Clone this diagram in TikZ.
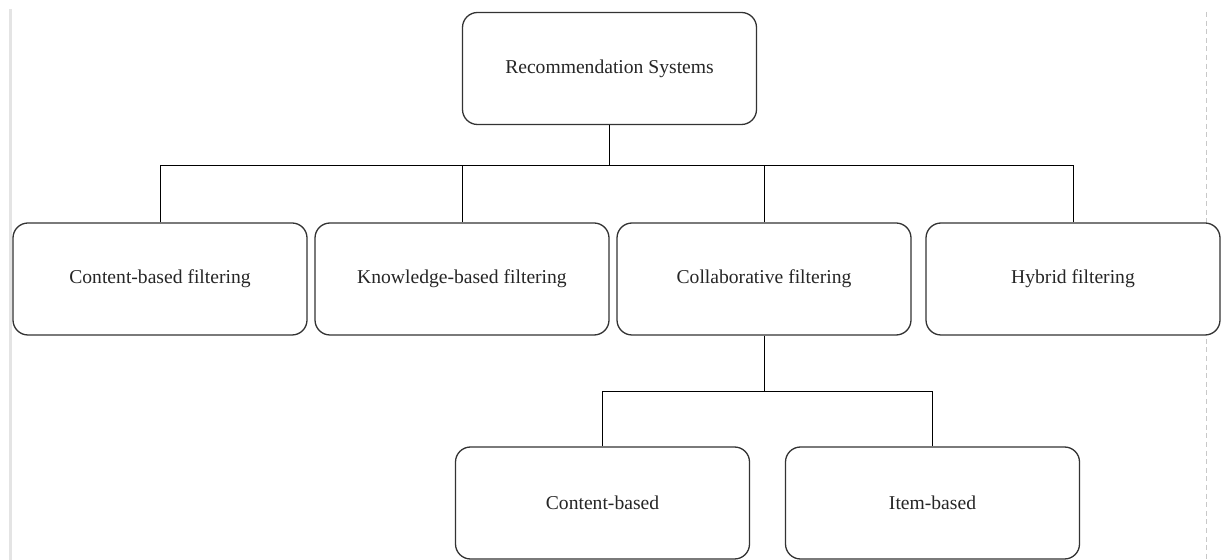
\documentclass[tikz,border=0pt]{standalone}
\usepackage{fontspec}
\setmainfont{Liberation Serif}
\usepackage{tikz}
\usetikzlibrary{positioning}
\definecolor{edge}{RGB}{51,51,51}
\definecolor{rule}{RGB}{228,228,228}
\definecolor{guide}{RGB}{200,200,200}
\tikzset{
  cat/.style={draw=edge, line width=0.65pt, fill=white, rounded corners=7.5pt,
              minimum width=147pt, minimum height=56pt, inner sep=0pt, align=center,
              text=black!85, font=\fontsize{9.8pt}{12pt}\selectfont},
  link/.style={draw=black, line width=0.5pt},
}
\begin{document}
\begin{tikzpicture}[x=0.5pt, y=-0.5pt]
  \clip (0,0) rectangle (1225,560);
  % page guides
  \draw[rule, line width=1.2pt] (10.5,9) -- (10.5,560);
  \draw[guide, line width=0.5pt, dash pattern=on 2.5pt off 1.8pt] (1206,12) -- (1206,560);
  % tree
  \node[cat] (rs) at (609.5,68.5) {Recommendation Systems};
  \node[cat] (cbf) at (160,279) {Content-based filtering};
  \node[cat] (kbf) at (462,279) {Knowledge-based filtering};
  \node[cat] (cf) at (764,279) {Collaborative filtering};
  \node[cat] (hf) at (1073,279) {Hybrid filtering};
  \node[cat] (cb) at (602.5,503) {Content-based};
  \node[cat] (ib) at (932.5,503) {Item-based};
  \coordinate (top) at (609.5,166);
  \coordinate (mid) at (764,392);
  \draw[link] (rs.south) -- (top);
  \draw[link] (cbf.north) |- (top);
  \draw[link] (kbf.north) |- (top);
  \draw[link] (cf.north) |- (top);
  \draw[link] (hf.north) |- (top);
  \draw[link] (cf.south) -- (mid);
  \draw[link] (cb.north) |- (mid);
  \draw[link] (ib.north) |- (mid);
\end{tikzpicture}
\end{document}
